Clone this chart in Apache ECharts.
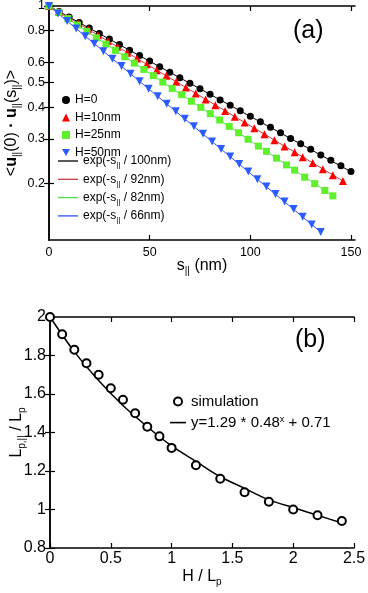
<!DOCTYPE html>
<html>
<head>
<meta charset="utf-8">
<script src="https://cdn.jsdelivr.net/npm/echarts@6/dist/echarts.min.js"></script>
<style>
html, body { margin: 0; padding: 0; background: #fff; }
#chart { width: 368px; height: 593px; }
</style>
</head>
<body>
<div id="chart"></div>
<script>
// (a) orientation correlation vs in-plane contour length
var sH0 = [0, 5, 10, 15, 20, 25, 30, 35, 40, 45, 50, 55, 60, 65, 70, 75, 80, 85, 90, 95, 100, 105, 110, 115, 120, 125, 130, 135, 140, 145, 150];
var cH0 = [1, 0.951, 0.905, 0.861, 0.819, 0.779, 0.741, 0.705, 0.670, 0.638, 0.607, 0.577, 0.549, 0.522, 0.497, 0.472, 0.449, 0.427, 0.407, 0.387, 0.368, 0.350, 0.333, 0.317, 0.301, 0.287, 0.273, 0.259, 0.247, 0.235, 0.223];
var sH10 = [0, 4.9, 9.7, 14.6, 19.4, 24.3, 29.2, 34, 38.9, 43.7, 48.6, 53.5, 58.3, 63.2, 68, 72.9, 77.8, 82.6, 87.5, 92.3, 97.2, 102, 107, 112, 117, 122, 126, 131, 136, 141, 146];
var cH10 = [1, 0.948, 0.900, 0.853, 0.810, 0.768, 0.728, 0.691, 0.655, 0.622, 0.590, 0.559, 0.531, 0.503, 0.478, 0.453, 0.429, 0.407, 0.386, 0.367, 0.348, 0.330, 0.313, 0.296, 0.280, 0.266, 0.254, 0.241, 0.228, 0.216, 0.205];
var sH25 = [0, 4.7, 9.4, 14.1, 18.8, 23.6, 28.3, 33, 37.7, 42.4, 47.1, 51.8, 56.5, 61.2, 65.9, 70.7, 75.4, 80.1, 84.8, 89.5, 94.2, 98.9, 104, 108, 113, 118, 122, 127, 132, 137, 141];
var cH25 = [1, 0.944, 0.892, 0.842, 0.795, 0.750, 0.708, 0.669, 0.631, 0.596, 0.563, 0.532, 0.502, 0.474, 0.448, 0.422, 0.399, 0.377, 0.356, 0.336, 0.317, 0.299, 0.281, 0.268, 0.252, 0.237, 0.226, 0.212, 0.200, 0.188, 0.179];
var sH50 = [0, 4.5, 9, 13.5, 18, 22.5, 27, 31.5, 36, 40.5, 45, 49.5, 54, 58.5, 63, 67.5, 72, 76.5, 81, 85.5, 90, 94.5, 99, 103.5, 108, 112.5, 117, 121.5, 126, 130.5, 135];
var cH50 = [1, 0.934, 0.872, 0.815, 0.761, 0.711, 0.664, 0.620, 0.580, 0.541, 0.506, 0.472, 0.441, 0.412, 0.385, 0.360, 0.336, 0.314, 0.293, 0.274, 0.256, 0.239, 0.223, 0.208, 0.195, 0.182, 0.170, 0.159, 0.148, 0.138, 0.129];

// exponential fits (straight on the log axis)
var fit100S = [0, 150], fit100C = [1, 0.223];
var fit92S = [0, 146], fit92C = [1, 0.205];
var fit82S = [0, 141], fit82C = [1, 0.179];
var fit66S = [0, 135], fit66C = [1, 0.129];

var xTicksA = [0, 50, 100, 150];
var yTicksA = [0.2, 0.3, 0.4, 0.5, 0.6, 0.8, 1];

// (b) persistence length ratio
var hOverLp = [0, 0.1, 0.2, 0.3, 0.4, 0.5, 0.6, 0.7, 0.8, 0.9, 1.0, 1.2, 1.4, 1.6, 1.8, 2.0, 2.2, 2.4];
var lpRatio = [2.0, 1.91, 1.83, 1.76, 1.70, 1.63, 1.57, 1.50, 1.43, 1.38, 1.32, 1.23, 1.16, 1.09, 1.04, 1.00, 0.97, 0.94];
var fitX = [0, 0.2, 0.4, 0.6, 0.8, 1.0, 1.2, 1.4, 1.6, 1.8, 2.0, 2.2, 2.4];
var fitY = [2.00, 1.82, 1.67, 1.54, 1.43, 1.33, 1.25, 1.17, 1.11, 1.05, 1.01, 0.97, 0.93];

var font = "'Liberation Sans', Arial, sans-serif";

function zip(xs, ys) {
    return xs.map(function (x, i) { return [x, ys[i]]; });
}

var richTitle = {
    n: { fontSize: 16, lineHeight: 20, fontFamily: font, color: '#000' },
    b: { fontSize: 16, lineHeight: 20, fontFamily: font, fontWeight: 'bold', color: '#000' },
    s: { fontSize: 10, lineHeight: 10, fontFamily: font, color: '#000', verticalAlign: 'bottom' }
};

var fitNames = {
    fit100: '100nm', fit92: '92nm', fit82: '82nm', fit66: '66nm'
};

function scatterA(name, s, c, symbol, size, color) {
    return {
        name: name,
        type: 'scatter',
        xAxisIndex: 0,
        yAxisIndex: 0,
        data: zip(s, c),
        symbol: symbol,
        symbolSize: size,
        itemStyle: { color: color, opacity: 1 },
        z: 3
    };
}

function lineA(name, s, c, color) {
    return {
        name: name,
        type: 'line',
        xAxisIndex: 0,
        yAxisIndex: 0,
        data: zip(s, c),
        symbol: 'none',
        lineStyle: { color: color, width: 1 },
        itemStyle: { color: color },
        z: 2
    };
}

var tickStyle = { color: '#000', width: 1.2 };
var frameLine = { show: true, lineStyle: { color: '#000', width: 1.5 } };

var myChart = echarts.init(document.getElementById('chart'));
var option = {
    animation: false,
    backgroundColor: '#fff',
    textStyle: { fontFamily: font },
    grid: [
        { left: 49, right: 13, top: 6, height: 234, outerBoundsMode: 'none', containLabel: false },
        { left: 50, right: 14, top: 317, height: 231, outerBoundsMode: 'none', containLabel: false }
    ],
    xAxis: [{
        gridIndex: 0,
        type: 'value',
        min: 0,
        max: 152,
        position: 'bottom',
        axisLine: frameLine,
        splitLine: { show: false },
        axisTick: { inside: true, length: 5, customValues: [50, 100, 150], lineStyle: tickStyle },
        axisLabel: { customValues: xTicksA, margin: 6, fontSize: 12.5, color: '#000', fontFamily: font },
        name: '{n|s}{s|||}{n| (nm)}',
        nameLocation: 'middle',
        nameGap: 16,
        nameMoveOverlap: false,
        nameTextStyle: { rich: richTitle }
    }, {
        gridIndex: 0,
        type: 'value',
        min: 0,
        max: 152,
        position: 'top',
        axisLine: frameLine,
        splitLine: { show: false },
        axisTick: { inside: true, length: 5, customValues: [50, 100, 150], lineStyle: tickStyle },
        axisLabel: { show: false }
    }, {
        gridIndex: 1,
        type: 'value',
        min: 0,
        max: 2.5,
        interval: 0.5,
        position: 'bottom',
        axisLine: frameLine,
        splitLine: { show: false },
        axisTick: { inside: true, length: 5, lineStyle: tickStyle },
        axisLabel: { margin: 3, fontSize: 16, color: '#000', fontFamily: font },
        name: '{n|H / L}{s|p}',
        nameLocation: 'middle',
        nameGap: 19,
        nameMoveOverlap: false,
        nameTextStyle: { rich: richTitle }
    }, {
        gridIndex: 1,
        type: 'value',
        min: 0,
        max: 2.5,
        interval: 0.5,
        position: 'top',
        axisLine: frameLine,
        splitLine: { show: false },
        axisTick: { inside: true, length: 5, lineStyle: tickStyle },
        axisLabel: { show: false }
    }],
    yAxis: [{
        gridIndex: 0,
        type: 'log',
        min: 0.12,
        max: 1,
        position: 'left',
        axisLine: frameLine,
        splitLine: { show: false },
        minorTick: { show: false },
        axisTick: { inside: true, length: 5, customValues: yTicksA, lineStyle: tickStyle },
        axisLabel: {
            customValues: yTicksA,
            margin: 4,
            fontSize: 12.5,
            color: '#000',
            fontFamily: font,
            formatter: function (v) { return String(v); }
        },
        name: '{n|<}{b|u}{s|||}{n|(0) }{b|·}{n| }{b|u}{s|||}{n|(s}{s|||}{n|)>}',
        nameLocation: 'middle',
        nameRotate: 90,
        nameGap: 27,
        nameMoveOverlap: false,
        nameTextStyle: { rich: richTitle }
    }, {
        gridIndex: 0,
        type: 'log',
        min: 0.12,
        max: 1,
        position: 'right',
        axisLine: frameLine,
        splitLine: { show: false },
        minorTick: { show: false },
        axisTick: { inside: true, length: 5, customValues: yTicksA, lineStyle: tickStyle },
        axisLabel: { show: false }
    }, {
        gridIndex: 1,
        type: 'value',
        min: 0.8,
        max: 2,
        interval: 0.2,
        position: 'left',
        axisLine: frameLine,
        splitLine: { show: false },
        axisTick: { inside: true, length: 5, lineStyle: tickStyle },
        axisLabel: { margin: 4, fontSize: 16, color: '#000', fontFamily: font },
        name: '{n|L}{s|p,||}{n| / L}{s|p}',
        nameLocation: 'middle',
        nameRotate: 90,
        nameGap: 23,
        nameMoveOverlap: false,
        nameTextStyle: { rich: richTitle }
    }, {
        gridIndex: 1,
        type: 'value',
        min: 0.8,
        max: 2,
        interval: 0.2,
        position: 'right',
        axisLine: frameLine,
        splitLine: { show: false },
        axisTick: { inside: true, length: 5, lineStyle: tickStyle },
        axisLabel: { show: false }
    }],
    legend: [{
        data: ['H=0', 'H=10nm', 'H=25nm', 'H=50nm'],
        orient: 'vertical',
        left: 62,
        top: 94,
        padding: 0,
        itemWidth: 8,
        itemHeight: 8,
        itemGap: 5.5,
        textStyle: { fontSize: 12, lineHeight: 10, color: '#000', fontFamily: font }
    }, {
        data: ['fit100', 'fit92', 'fit82', 'fit66'],
        orient: 'vertical',
        left: 58,
        top: 155,
        padding: 0,
        icon: 'rect',
        itemWidth: 20,
        itemHeight: 1.3,
        itemGap: 4.3,
        formatter: function (name) {
            return '{n|exp(-s}{s|||}{n| / ' + fitNames[name] + ')}';
        },
        textStyle: {
            color: '#000',
            rich: {
                n: { fontSize: 12, lineHeight: 16, fontFamily: font, color: '#000' },
                s: { fontSize: 8, lineHeight: 8, fontFamily: font, color: '#000', verticalAlign: 'bottom' }
            }
        }
    }, {
        data: ['simulation', { name: 'fitB', icon: 'path://M0,0 L16,0 L16,1.6 L0,1.6 Z' }],
        orient: 'vertical',
        left: 170,
        top: 394,
        padding: 0,
        itemWidth: 16,
        itemHeight: 8,
        itemGap: 5.6,
        formatter: function (name) {
            if (name === 'fitB') {
                return '{n|y=1.29 * 0.48}{sup|x}{n| + 0.71}';
            }
            return '{n|' + name + '}';
        },
        textStyle: {
            color: '#000',
            rich: {
                n: { fontSize: 15, lineHeight: 16, fontFamily: font, color: '#000' },
                sup: { fontSize: 9, lineHeight: 8, fontFamily: font, color: '#000', verticalAlign: 'top' }
            }
        }
    }],
    graphic: [
        { type: 'text', left: 293, top: 19, style: { text: '(a)', fontSize: 25, fontFamily: font, fill: '#000' } },
        { type: 'text', left: 295, top: 328, style: { text: '(b)', fontSize: 25, fontFamily: font, fill: '#000' } }
    ],
    series: [
        lineA('fit100', fit100S, fit100C, '#000000'),
        lineA('fit92', fit92S, fit92C, '#c83a48'),
        lineA('fit82', fit82S, fit82C, '#4cdc4c'),
        lineA('fit66', fit66S, fit66C, '#3050f0'),
        scatterA('H=0', sH0, cH0, 'circle', 7, '#000000'),
        scatterA('H=10nm', sH10, cH10, 'triangle', 8, '#ff0000'),
        scatterA('H=25nm', sH25, cH25, 'rect', 7, '#5ef02a'),
        scatterA('H=50nm', sH50, cH50, 'path://M0,0 L10,0 L5,9 Z', 8, '#2a5cff'),
        {
            name: 'simulation',
            type: 'scatter',
            xAxisIndex: 2,
            yAxisIndex: 2,
            data: zip(hOverLp, lpRatio),
            symbol: 'emptyCircle',
            symbolSize: 8,
            itemStyle: { color: '#000', borderWidth: 1.3, opacity: 1 },
            z: 3
        },
        {
            name: 'fitB',
            type: 'line',
            xAxisIndex: 2,
            yAxisIndex: 2,
            data: zip(fitX, fitY),
            smooth: 0.3,
            symbol: 'none',
            lineStyle: { color: '#000', width: 1.5 },
            itemStyle: { color: '#000' },
            z: 2
        }
    ]
};
myChart.setOption(option);
</script>
</body>
</html>
